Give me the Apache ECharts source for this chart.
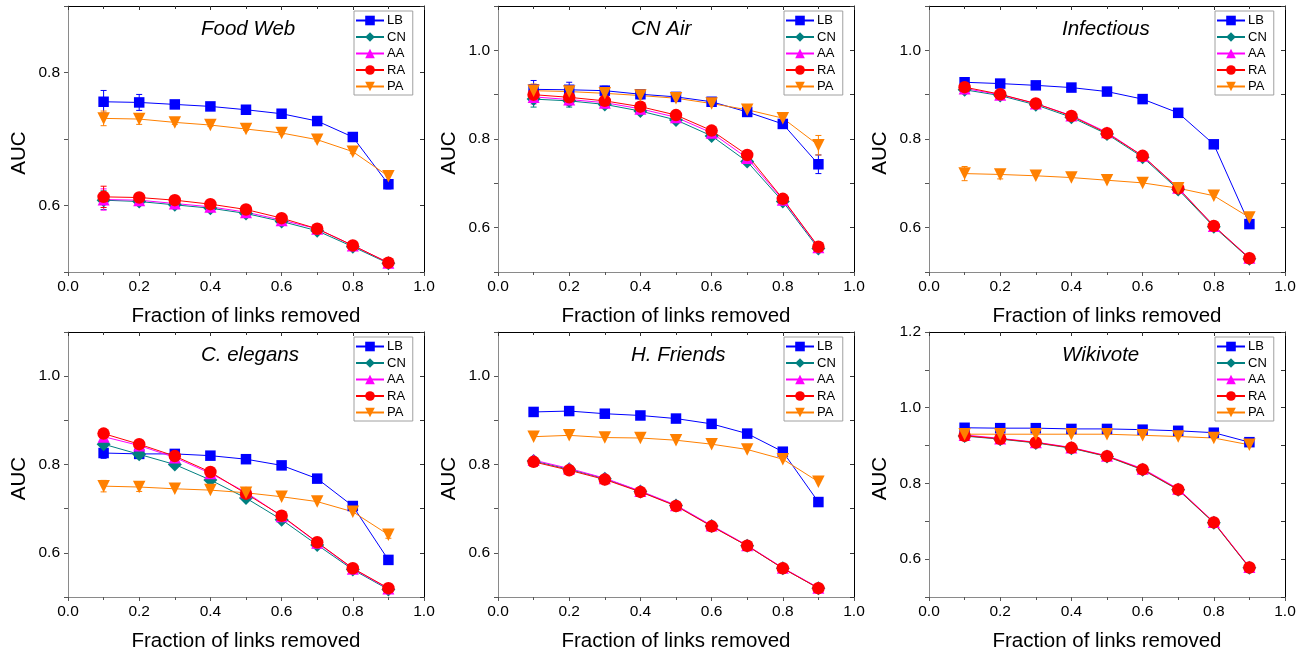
<!DOCTYPE html>
<html>
<head>
<meta charset="utf-8">
<script src="https://cdn.jsdelivr.net/npm/echarts@6/dist/echarts.min.js"></script>
<style>
  html, body { margin: 0; padding: 0; background: #fff; }
  #chart { width: 1316px; height: 658px; }
</style>
</head>
<body>
<div id="chart"></div>
<script>
// Fraction of links removed (x positions of every series)
const fractions = [0.1, 0.2, 0.3, 0.4, 0.5, 0.6, 0.7, 0.8, 0.9];
const methods = ['LB', 'CN', 'AA', 'RA', 'PA'];

// Food Web
const foodWebLB = [0.756, 0.755, 0.752, 0.749, 0.744, 0.738, 0.727, 0.703, 0.632];
const foodWebCN = [0.608, 0.606, 0.601, 0.596, 0.588, 0.576, 0.562, 0.538, 0.513];
const foodWebAA = [0.609, 0.608, 0.603, 0.598, 0.590, 0.578, 0.565, 0.540, 0.514];
const foodWebRA = [0.613, 0.612, 0.608, 0.602, 0.594, 0.581, 0.565, 0.540, 0.514];
const foodWebPA = [0.731, 0.730, 0.725, 0.721, 0.715, 0.709, 0.699, 0.681, 0.644];
const foodWebErrLB = [0.017, 0.012, 0.003, 0.002, 0.002, 0.002, 0.002, 0.003, 0.007];
const foodWebErrCN = [0.014, 0.004, 0.003, 0.003, 0.003, 0.003, 0.003, 0.005, 0.003];
const foodWebErrAA = [0.016, 0.004, 0.003, 0.003, 0.003, 0.003, 0.003, 0.005, 0.003];
const foodWebErrRA = [0.016, 0.005, 0.004, 0.003, 0.003, 0.003, 0.003, 0.006, 0.003];
const foodWebErrPA = [0.011, 0.008, 0.003, 0.002, 0.002, 0.002, 0.002, 0.003, 0.008];

// CN Air
const cnAirLB = [0.912, 0.911, 0.909, 0.901, 0.895, 0.884, 0.861, 0.834, 0.743];
const cnAirCN = [0.890, 0.886, 0.878, 0.863, 0.843, 0.807, 0.749, 0.659, 0.553];
const cnAirAA = [0.895, 0.889, 0.882, 0.868, 0.849, 0.814, 0.757, 0.663, 0.556];
const cnAirRA = [0.900, 0.894, 0.886, 0.873, 0.854, 0.819, 0.764, 0.665, 0.557];
const cnAirPA = [0.909, 0.907, 0.903, 0.898, 0.892, 0.880, 0.866, 0.847, 0.786];
const cnAirErrLB = [0.020, 0.017, 0.010, 0.008, 0.006, 0.005, 0.006, 0.010, 0.021];
const cnAirErrCN = [0.018, 0.014, 0.008, 0.006, 0.005, 0.005, 0.004, 0.006, 0.004];
const cnAirErrAA = [0.016, 0.013, 0.008, 0.006, 0.005, 0.005, 0.004, 0.006, 0.004];
const cnAirErrRA = [0.016, 0.012, 0.008, 0.006, 0.005, 0.005, 0.004, 0.006, 0.004];
const cnAirErrPA = [0.015, 0.012, 0.010, 0.008, 0.007, 0.006, 0.006, 0.010, 0.022];

// Infectious
const infectiousLB = [0.928, 0.925, 0.921, 0.916, 0.907, 0.890, 0.859, 0.788, 0.608];
const infectiousCN = [0.911, 0.898, 0.877, 0.849, 0.811, 0.759, 0.686, 0.602, 0.530];
const infectiousAA = [0.914, 0.900, 0.880, 0.853, 0.815, 0.762, 0.690, 0.604, 0.532];
const infectiousRA = [0.917, 0.901, 0.880, 0.852, 0.813, 0.762, 0.689, 0.604, 0.531];
const infectiousPA = [0.722, 0.720, 0.717, 0.713, 0.707, 0.701, 0.689, 0.672, 0.623];
const infectiousErrLB = [0, 0, 0, 0, 0, 0, 0, 0.006, 0.008];
const infectiousErrPA = [0.016, 0.010, 0, 0, 0, 0, 0, 0, 0.006];

// C. elegans
const cElegansLB = [0.826, 0.824, 0.824, 0.820, 0.812, 0.798, 0.768, 0.706, 0.584];
const cElegansCN = [0.846, 0.823, 0.800, 0.765, 0.724, 0.675, 0.618, 0.562, 0.517];
const cElegansAA = [0.863, 0.843, 0.816, 0.780, 0.737, 0.683, 0.623, 0.564, 0.519];
const cElegansRA = [0.870, 0.846, 0.819, 0.783, 0.734, 0.684, 0.624, 0.565, 0.520];
const cElegansPA = [0.751, 0.749, 0.745, 0.742, 0.736, 0.727, 0.716, 0.693, 0.641];
const cElegansErrLB = [0.012, 0.005, 0, 0, 0, 0, 0, 0, 0.006];
const cElegansErrCN = [0.010, 0.004, 0, 0, 0, 0, 0, 0, 0];
const cElegansErrRA = [0.010, 0.004, 0, 0, 0, 0, 0, 0, 0];
const cElegansErrPA = [0.013, 0.010, 0, 0, 0, 0, 0, 0, 0.008];

// H. Friends
const hFriendsLB = [0.919, 0.921, 0.915, 0.911, 0.904, 0.892, 0.870, 0.829, 0.715];
const hFriendsCN = [0.808, 0.789, 0.768, 0.739, 0.707, 0.661, 0.616, 0.565, 0.520];
const hFriendsAA = [0.810, 0.791, 0.769, 0.740, 0.708, 0.662, 0.617, 0.566, 0.521];
const hFriendsRA = [0.806, 0.787, 0.766, 0.738, 0.706, 0.660, 0.616, 0.565, 0.520];
const hFriendsPA = [0.863, 0.866, 0.861, 0.860, 0.855, 0.846, 0.834, 0.812, 0.761];

// Wikivote
const wikivoteLB = [0.947, 0.946, 0.946, 0.944, 0.944, 0.942, 0.939, 0.934, 0.909];
const wikivoteCN = [0.925, 0.917, 0.907, 0.893, 0.871, 0.836, 0.783, 0.696, 0.577];
const wikivoteAA = [0.928, 0.919, 0.909, 0.895, 0.873, 0.839, 0.786, 0.698, 0.579];
const wikivoteRA = [0.926, 0.918, 0.908, 0.894, 0.872, 0.837, 0.784, 0.697, 0.578];
const wikivotePA = [0.930, 0.930, 0.930, 0.930, 0.930, 0.927, 0.924, 0.920, 0.902];

const panels = [
  { title: 'Food Web', yMin: 0.5, yMax: 0.9,
    values: { LB: foodWebLB, CN: foodWebCN, AA: foodWebAA, RA: foodWebRA, PA: foodWebPA },
    errors: { LB: foodWebErrLB, CN: foodWebErrCN, AA: foodWebErrAA, RA: foodWebErrRA, PA: foodWebErrPA } },
  { title: 'CN Air', yMin: 0.5, yMax: 1.1,
    values: { LB: cnAirLB, CN: cnAirCN, AA: cnAirAA, RA: cnAirRA, PA: cnAirPA },
    errors: { LB: cnAirErrLB, CN: cnAirErrCN, AA: cnAirErrAA, RA: cnAirErrRA, PA: cnAirErrPA } },
  { title: 'Infectious', yMin: 0.5, yMax: 1.1,
    values: { LB: infectiousLB, CN: infectiousCN, AA: infectiousAA, RA: infectiousRA, PA: infectiousPA },
    errors: { LB: infectiousErrLB, PA: infectiousErrPA } },
  { title: 'C. elegans', yMin: 0.5, yMax: 1.1,
    values: { LB: cElegansLB, CN: cElegansCN, AA: cElegansAA, RA: cElegansRA, PA: cElegansPA },
    errors: { LB: cElegansErrLB, CN: cElegansErrCN, RA: cElegansErrRA, PA: cElegansErrPA } },
  { title: 'H. Friends', yMin: 0.5, yMax: 1.1,
    values: { LB: hFriendsLB, CN: hFriendsCN, AA: hFriendsAA, RA: hFriendsRA, PA: hFriendsPA },
    errors: {} },
  { title: 'Wikivote', yMin: 0.5, yMax: 1.2,
    values: { LB: wikivoteLB, CN: wikivoteCN, AA: wikivoteAA, RA: wikivoteRA, PA: wikivotePA },
    errors: {} }
];

// Marker style of each method
const styles = {
  LB: { color: '#0000ff', symbol: 'rect', size: 10.5, rotate: 0 },
  CN: { color: '#008080', symbol: 'diamond', size: 14, rotate: 0 },
  AA: { color: '#ff00ff', symbol: 'triangle', size: 12, rotate: 0 },
  RA: { color: '#ff0000', symbol: 'circle', size: 12.5, rotate: 0 },
  PA: { color: '#ff8000', symbol: 'triangle', size: 12.5, rotate: 180 }
};

// Plot rectangles: 3 columns x 2 rows
const colLeft = [68, 498, 929];
const rowTop = [6, 332];
const plotW = 356;
const plotH = [266, 265];

const FONT = "'Liberation Sans', Arial, Helvetica, sans-serif";
const AXIS_GRAY = '#8a8a8a';

const option = {
  backgroundColor: '#ffffff',
  animation: false,
  textStyle: { fontFamily: FONT },
  grid: [], xAxis: [], yAxis: [], series: [], legend: [], title: []
};

panels.forEach((p, i) => {
  const col = i % 3, row = Math.floor(i / 3);
  const left = colLeft[col], top = rowTop[row], h = plotH[row];
  option.grid.push({ left: left, top: top, width: plotW, height: h, containLabel: false });

  // bottom (labelled) and top (frame) x axes
  option.xAxis.push({
    type: 'value', gridIndex: i, min: 0, max: 1, interval: 0.2, position: 'bottom',
    name: 'Fraction of links removed', nameLocation: 'middle', nameGap: 34,
    nameTextStyle: { fontSize: 20.5, color: '#000', fontFamily: FONT },
    axisLine: { show: true, onZero: false, lineStyle: { color: AXIS_GRAY, width: 1 } },
    axisTick: { show: true, inside: false, length: 4, lineStyle: { color: '#555' } },
    minorTick: { show: true, splitNumber: 2, length: 3, lineStyle: { color: '#555' } },
    axisLabel: { fontSize: 15.5, color: '#000', margin: 7, formatter: v => v.toFixed(1) },
    splitLine: { show: false }
  });
  option.xAxis.push({
    type: 'value', gridIndex: i, min: 0, max: 1, interval: 0.2, position: 'top',
    axisLine: { show: true, onZero: false, lineStyle: { color: '#000', width: 1 } },
    axisTick: { show: true, inside: true, length: 4, lineStyle: { color: '#333' } },
    minorTick: { show: true, splitNumber: 2, length: 3, lineStyle: { color: '#333' } },
    axisLabel: { show: false }, splitLine: { show: false }
  });

  // left (labelled) and right (frame) y axes
  option.yAxis.push({
    type: 'value', gridIndex: i, min: p.yMin, max: p.yMax, interval: 0.1, position: 'left',
    name: 'AUC', nameLocation: 'middle', nameGap: 38, nameRotate: 90,
    nameTextStyle: { fontSize: 20.5, color: '#000', fontFamily: FONT, padding: [0, 28, 0, 0] },
    axisLine: { show: true, onZero: false, lineStyle: { color: AXIS_GRAY, width: 1 } },
    axisTick: { show: true, inside: false, length: 4, lineStyle: { color: '#555' } },
    axisLabel: {
      fontSize: 15.5, color: '#000', margin: 8,
      formatter: v => (Math.round(v * 10) % 2 === 0 ? v.toFixed(1) : '')
    },
    splitLine: { show: false }
  });
  option.yAxis.push({
    type: 'value', gridIndex: i, min: p.yMin, max: p.yMax, interval: 0.1, position: 'right',
    axisLine: { show: true, onZero: false, lineStyle: { color: '#000', width: 1 } },
    axisTick: { show: true, inside: true, length: 4, lineStyle: { color: '#333' } },
    axisLabel: { show: false }, splitLine: { show: false }
  });

  option.title.push({
    text: p.title, left: left + 133, top: top + 13, padding: 0,
    textStyle: { fontSize: 20.5, fontStyle: 'italic', fontWeight: 'normal', color: '#000', fontFamily: FONT }
  });

  option.legend.push({
    data: methods, orient: 'vertical', left: left + plotW - 70, top: top + 5,
    itemWidth: 28, itemHeight: 12, itemGap: 3.5, padding: [3, 7, 2, 1],
    borderColor: '#a0a0a0', borderWidth: 1, backgroundColor: '#fff',
    selectedMode: false, symbolRotate: 'inherit',
    textStyle: { fontSize: 13, color: '#000', fontFamily: FONT, padding: [0, 0, 0, -2] }
  });

  methods.forEach(m => {
    const s = styles[m];
    const err = p.errors[m];
    if (err) {
      option.series.push({
        name: m + ' error', type: 'custom', xAxisIndex: 2 * i, yAxisIndex: 2 * i,
        z: 2, silent: true,
        data: fractions.map((x, k) => [x, p.values[m][k], err[k]]),
        renderItem: (params, api) => {
          const x = api.value(0), y = api.value(1), e = api.value(2);
          if (!e) return null;
          const hi = api.coord([x, y + e]);
          const lo = api.coord([x, y - e]);
          const cap = 3;
          const st = { stroke: s.color, lineWidth: 1 };
          return {
            type: 'group',
            children: [
              { type: 'line', shape: { x1: hi[0], y1: hi[1], x2: lo[0], y2: lo[1] }, style: st },
              { type: 'line', shape: { x1: hi[0] - cap, y1: hi[1], x2: hi[0] + cap, y2: hi[1] }, style: st },
              { type: 'line', shape: { x1: lo[0] - cap, y1: lo[1], x2: lo[0] + cap, y2: lo[1] }, style: st }
            ]
          };
        }
      });
    }
    option.series.push({
      name: m, type: 'line', xAxisIndex: 2 * i, yAxisIndex: 2 * i, z: 3,
      data: fractions.map((x, k) => [x, p.values[m][k]]),
      symbol: s.symbol, symbolSize: s.size, symbolRotate: s.rotate,
      showAllSymbol: true,
      lineStyle: { color: s.color, width: 1 },
      itemStyle: { color: s.color, borderWidth: 0 },
      emphasis: { disabled: true }
    });
  });
});

const chart = echarts.init(document.getElementById('chart'), null, { renderer: 'canvas' });
chart.setOption(option);
</script>
</body>
</html>
